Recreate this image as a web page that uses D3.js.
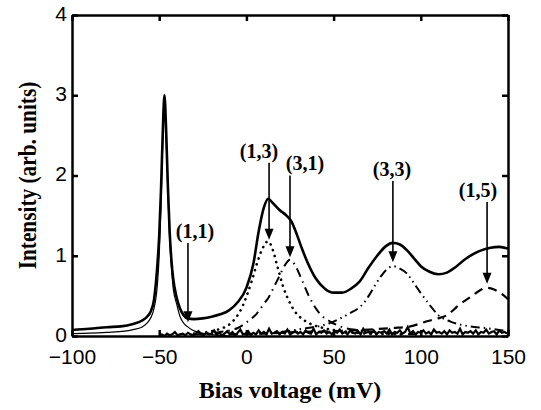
<!DOCTYPE html>
<html>
<head>
<meta charset="utf-8">
<script src="https://cdn.jsdelivr.net/npm/d3@7/dist/d3.min.js"></script>
<style>
    body { margin: 0; background: #fff; }
    svg { display: block; }
    .axis path, .axis line { stroke: #000; stroke-width: 2.5px; }
    .axis text { font-family: 'Liberation Sans', Arial, sans-serif; font-size: 21px; fill: #000; }
    .axis-label { font-family: 'Liberation Serif', 'Times New Roman', serif; font-weight: bold; fill: #000; }
    .ann { font-family: 'Liberation Serif', 'Times New Roman', serif; font-weight: bold; font-size: 20px; fill: #000; }
</style>
</head>
<body>
<svg id="chart" width="541" height="410"></svg>
<script>
(function() {
    'use strict';

    // total spectrum (thick solid)
    var totalX = [-100, -90, -80, -72, -65, -60, -57, -55, -53, -51, -50, -49, -48, -47, -46, -45, -44, -43, -42, -40, -38, -36, -34,
                  -30, -25, -20, -15, -10, -5, 0, 4, 7, 10, 12.5, 15, 19, 23, 26, 29, 32, 35, 40, 45, 50, 55, 60, 65, 70, 75, 80,
                  84, 88, 92, 96, 100, 105, 110, 115, 120, 125, 130, 135, 140, 145, 150];
    var totalY = [0.075, 0.09, 0.11, 0.12, 0.15, 0.19, 0.24, 0.3, 0.45, 0.9, 1.25, 1.8, 2.5, 3.0, 2.55, 1.85, 1.3, 0.95, 0.72, 0.48, 0.34, 0.26, 0.22,
                  0.21, 0.22, 0.24, 0.27, 0.32, 0.42, 0.6, 0.9, 1.3, 1.6, 1.71, 1.66, 1.57, 1.5, 1.42, 1.26, 1.08, 0.92, 0.71, 0.59, 0.54, 0.54, 0.59, 0.68, 0.85, 1.0, 1.12,
                  1.16, 1.14, 1.07, 0.97, 0.87, 0.8, 0.77, 0.79, 0.86, 0.95, 1.02, 1.07, 1.1, 1.11, 1.09];

    // single peak (thin solid)
    var thinX = [-100, -90, -80, -70, -65, -60, -57, -55, -53, -51, -50, -49, -48, -47, -46, -45, -44, -43, -42, -40, -38, -36, -34, -31, -28, -24, -18, -10];
    var thinY = [0.03, 0.035, 0.045, 0.06, 0.08, 0.11, 0.16, 0.22, 0.34, 0.65, 1.0, 1.6, 2.4, 2.95, 2.45, 1.75, 1.2, 0.85, 0.6, 0.4, 0.24, 0.16, 0.12, 0.075, 0.05, 0.03, 0.015, 0.0];

    // (1,3) dotted
    var p13X = [-30, -20, -15, -10, -5, -2, 0, 3, 6, 9, 12.5, 15, 18, 21, 25, 28, 31, 36, 44, 55, 70, 90];
    var p13Y = [0.03, 0.06, 0.09, 0.14, 0.26, 0.38, 0.49, 0.68, 0.9, 1.08, 1.18, 1.08, 0.85, 0.62, 0.41, 0.3, 0.23, 0.16, 0.1, 0.06, 0.03, 0.02];

    // (3,1) dash-dot
    var p31X = [-30, -15, -5, 0, 6, 10, 13, 16, 19, 22, 25, 28, 31, 36, 42, 48, 55, 65, 80, 100];
    var p31Y = [0.02, 0.05, 0.1, 0.17, 0.28, 0.4, 0.49, 0.62, 0.75, 0.88, 0.95, 0.88, 0.74, 0.49, 0.28, 0.18, 0.11, 0.07, 0.04, 0.02];

    // (3,3) dash-dot-dot
    var p33X = [20, 35, 45, 52, 59, 65, 68, 71, 74, 77, 80, 84, 88, 92, 96, 99.5, 105, 110, 117, 128, 137, 147, 150];
    var p33Y = [0.05, 0.1, 0.14, 0.2, 0.28, 0.36, 0.43, 0.53, 0.64, 0.74, 0.82, 0.87, 0.84, 0.78, 0.66, 0.55, 0.39, 0.26, 0.18, 0.12, 0.1, 0.07, 0.065];

    // (1,5) dashed
    var p15X = [-10, 10, 30, 50, 70, 84, 94, 103, 110, 115, 119, 122, 126, 130, 134, 138, 142, 146, 150];
    var p15Y = [0.02, 0.03, 0.05, 0.06, 0.08, 0.1, 0.12, 0.18, 0.22, 0.26, 0.33, 0.39, 0.45, 0.51, 0.57, 0.6, 0.58, 0.53, 0.46];

    // residual noise along the baseline, sampled every 1.5 mV from -50 mV
    var noiseStart = -50, noiseStep = 1.5;
    var noiseY = [0.01, 0.02, 0.0, 0.03, 0.01, 0.02, 0.05, 0.01, 0.02, 0.03, 0.01, 0.04, 0.02, 0.01, 0.03, 0.06, 0.02, 0.01, 0.04, 0.02,
                  0.03, 0.07, 0.02, 0.04, 0.01, 0.03, 0.06, 0.02, 0.05, 0.01, 0.04, 0.08, 0.02, 0.03, 0.06, 0.01, 0.04, 0.02, 0.07, 0.03,
                  0.05, 0.02, 0.09, 0.03, 0.04, 0.06, 0.02, 0.05, 0.03, 0.08, 0.02, 0.04, 0.06, 0.03, 0.05, 0.02, 0.07, 0.04, 0.03, 0.09,
                  0.02, 0.05, 0.04, 0.07, 0.03, 0.05, 0.02, 0.06, 0.04, 0.08, 0.03, 0.05, 0.02, 0.07, 0.04, 0.03, 0.06, 0.02, 0.09, 0.04,
                  0.05, 0.03, 0.07, 0.02, 0.05, 0.04, 0.06, 0.03, 0.08, 0.02, 0.05, 0.04, 0.07, 0.03, 0.05, 0.11, 0.03, 0.06, 0.02, 0.05,
                  0.04, 0.07, 0.03, 0.05, 0.02, 0.08, 0.04, 0.05, 0.03, 0.06, 0.02, 0.07, 0.04, 0.05, 0.03, 0.09, 0.02, 0.05, 0.04, 0.06,
                  0.03, 0.07, 0.02, 0.05, 0.04, 0.08, 0.03, 0.05, 0.06, 0.02, 0.07, 0.04, 0.05, 0.03];

    // annotations
    var annLabels = ['(1,1)', '(1,3)', '(3,1)', '(3,3)', '(1,5)'];
    var annLabelX = [-29.5, 7.2, 33.6, 83.5, 132.8];
    var annLabelY = [1.22, 2.22, 2.07, 2.0, 1.73];
    var annX = [-33.5, 13, 25, 84, 138];
    var annTop = [1.16, 2.16, 2.0, 1.93, 1.67];
    var annTip = [0.17, 1.2, 0.98, 0.92, 0.65];

    var xTicks = [-100, -50, 0, 50, 100, 150];
    var yTicks = [0, 1, 2, 3, 4];

    var margin = {top: 15, right: 33, bottom: 74, left: 72},
        width = 541 - margin.left - margin.right,
        height = 410 - margin.top - margin.bottom;

    var svg = d3.select('#chart');
    var g = svg.append('g')
        .attr('transform', 'translate(' + [margin.left, margin.top] + ')');

    var x = d3.scaleLinear().domain([-100, 150]).range([0, width]);
    var y = d3.scaleLinear().domain([0, 4]).range([height, 0]);

    function pts(xs, ys) {
        return xs.map(function(v, i) { return [v, ys[i]]; });
    }

    var line = d3.line()
        .x(function(d) { return x(d[0]); })
        .y(function(d) { return y(d[1]); })
        .curve(d3.curveMonotoneX);

    var series = [
        {d: pts(thinX, thinY), w: 1.2, dash: null},
        {d: pts(p13X, p13Y), w: 2.6, dash: '0.1,6', cap: 'round'},
        {d: pts(p31X, p31Y), w: 2, dash: '9,5,1.5,5'},
        {d: pts(p33X, p33Y), w: 2, dash: '9,4,1.5,4,1.5,4'},
        {d: pts(p15X, p15Y), w: 2.2, dash: '9,6'},
        {d: pts(totalX, totalY), w: 2.6, dash: null}
    ];

    svg.append('defs').append('clipPath').attr('id', 'clip')
        .append('rect').attr('width', width).attr('height', height);

    g.append('g')
        .attr('clip-path', 'url(#clip)')
        .selectAll('path')
        .data(series)
        .enter().append('path')
            .attr('d', function(s) { return line(s.d); })
            .attr('fill', 'none')
            .attr('stroke', '#000')
            .attr('stroke-width', function(s) { return s.w; })
            .attr('stroke-linecap', function(s) { return s.cap || 'butt'; })
            .attr('stroke-dasharray', function(s) { return s.dash; });

    // baseline noise
    var noise = noiseY.map(function(v, i) { return [noiseStart + i * noiseStep, v]; });
    g.append('path')
        .attr('d', d3.line()
            .x(function(d) { return x(d[0]); })
            .y(function(d) { return y(d[1]); })(noise))
        .attr('fill', 'none')
        .attr('stroke', '#000')
        .attr('stroke-width', 2.2);

    // axes, ticks pointing inward on all four sides
    g.append('g')
        .attr('class', 'x axis')
        .attr('transform', 'translate(0,' + height + ')')
        .call(d3.axisBottom(x).tickValues(xTicks).tickSizeInner(-6).tickSizeOuter(0).tickPadding(13));

    g.append('g')
        .attr('class', 'x axis top')
        .call(d3.axisTop(x).tickValues(xTicks).tickSizeInner(-6).tickSizeOuter(0).tickFormat(''));

    g.append('g')
        .attr('class', 'y axis')
        .call(d3.axisLeft(y).tickValues(yTicks).tickFormat(d3.format('d'))
            .tickSizeInner(-6).tickSizeOuter(0).tickPadding(5))
        .selectAll('text')
            .attr('dy', '0.25em');

    g.append('g')
        .attr('class', 'y axis right')
        .attr('transform', 'translate(' + width + ',0)')
        .call(d3.axisRight(y).tickValues(yTicks).tickSizeInner(-6).tickSizeOuter(0).tickFormat(''));

    // annotation arrows
    var ann = g.selectAll('.arrow')
        .data(annLabels)
        .enter().append('g')
            .attr('class', 'arrow');

    ann.append('text')
        .attr('class', 'ann')
        .attr('x', function(d, i) { return x(annLabelX[i]); })
        .attr('y', function(d, i) { return y(annLabelY[i]); })
        .attr('text-anchor', 'middle')
        .text(function(d) { return d; });

    ann.append('line')
        .attr('x1', function(d, i) { return x(annX[i]); })
        .attr('x2', function(d, i) { return x(annX[i]); })
        .attr('y1', function(d, i) { return y(annTop[i]); })
        .attr('y2', function(d, i) { return y(annTip[i]) - 8; })
        .attr('stroke', '#000')
        .attr('stroke-width', 1.6);

    ann.append('path')
        .attr('d', function(d, i) {
            var px = x(annX[i]), py = y(annTip[i]);
            return 'M' + (px - 4.5) + ' ' + (py - 11) + ' L' + (px + 4.5) + ' ' + (py - 11) + ' L' + px + ' ' + py + ' Z';
        })
        .attr('fill', '#000');

    // axis titles
    svg.append('text')
        .attr('class', 'axis-label')
        .attr('x', margin.left + width / 2)
        .attr('y', 398)
        .attr('text-anchor', 'middle')
        .style('font-size', '24px')
        .text('Bias voltage (mV)');

    svg.append('text')
        .attr('class', 'axis-label')
        .attr('transform', 'translate(36,' + (margin.top + height / 2) + ') rotate(-90) scale(0.82,1)')
        .attr('text-anchor', 'middle')
        .style('font-size', '26px')
        .text('Intensity (arb. units)');
})();
</script>
</body>
</html>
